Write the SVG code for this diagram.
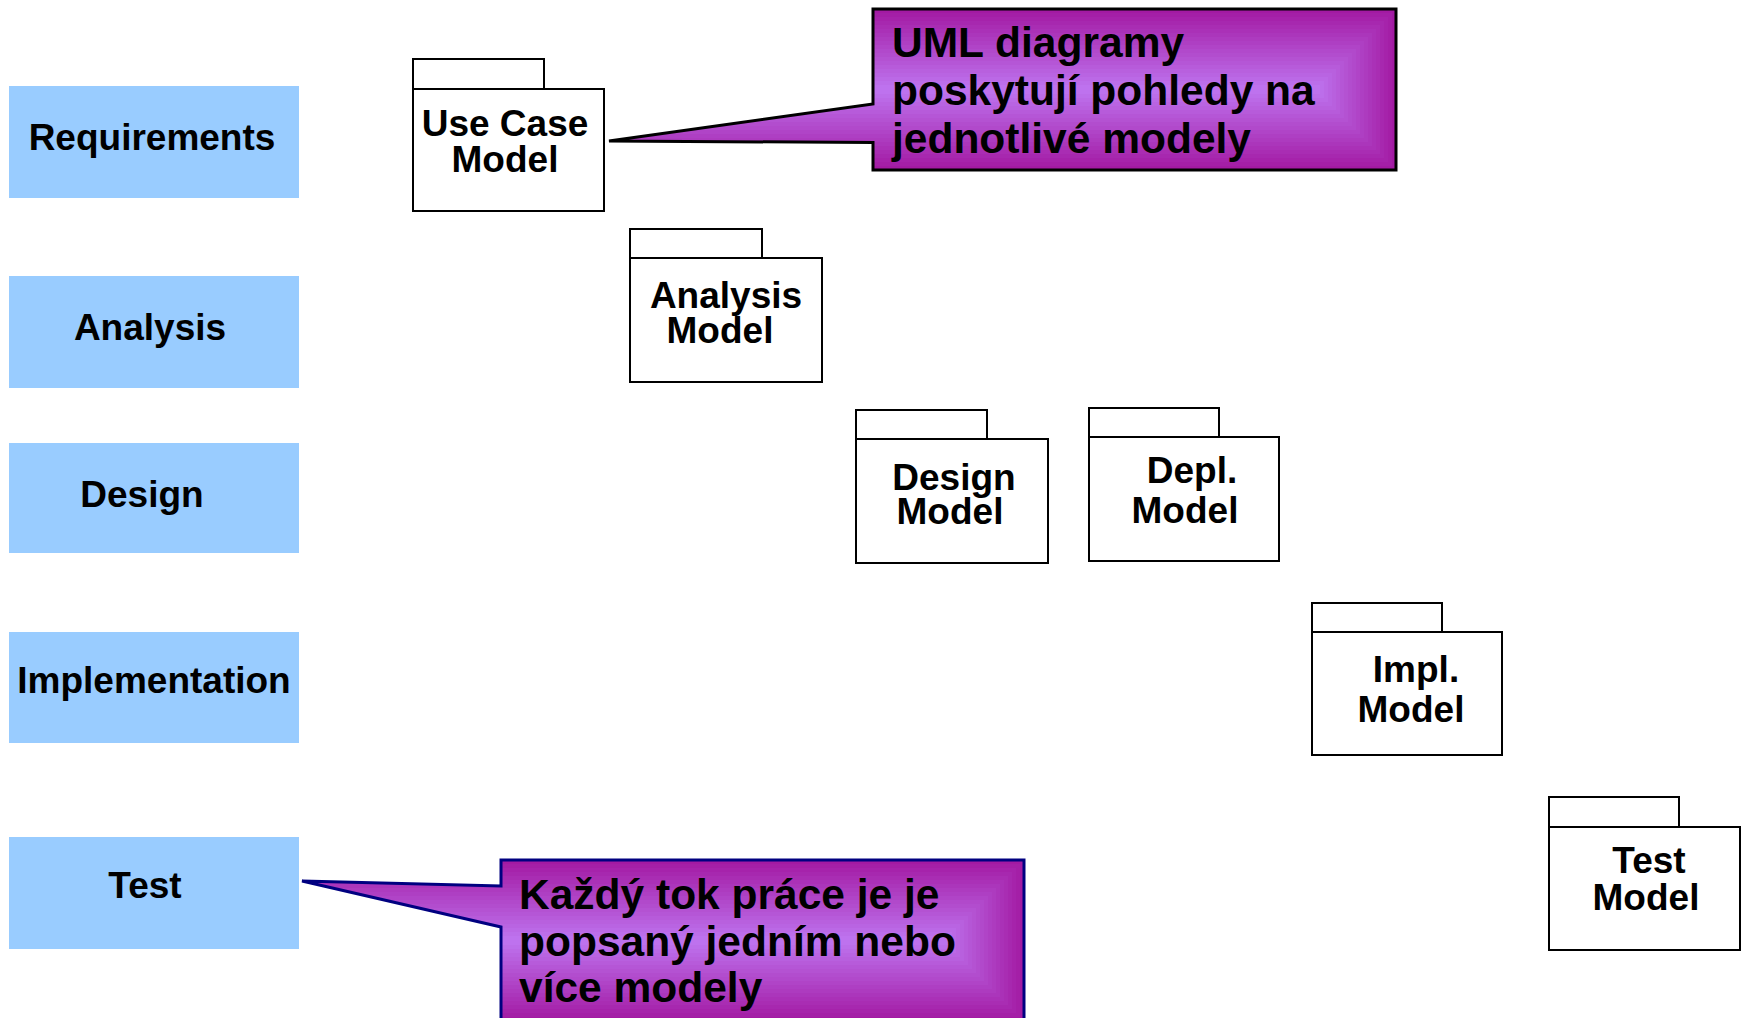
<svg xmlns="http://www.w3.org/2000/svg" xmlns:xlink="http://www.w3.org/1999/xlink" width="1744" height="1018" viewBox="0 0 1744 1018">
  <style>
    text { font-family: "Liberation Sans", Arial, sans-serif; font-weight: bold; fill: #000; }
    .flow rect { fill: #99ccff; }
    .flow text { font-size: 37px; text-anchor: middle; }
    .pkg rect { fill: #fff; stroke: #000; stroke-width: 2; }
    .pkg text { font-size: 37px; text-anchor: middle; }
    .note text { font-size: 42.5px; }
    .edge1 { fill: none; stroke: #000; stroke-width: 3; stroke-linejoin: miter; }
    .edge2 { fill: none; stroke: #000080; stroke-width: 3; stroke-linejoin: miter; }
    .r0 { fill: #a31aa3; } .r1 { fill: #a41fa7; } .r2 { fill: #a623ab; } .r3 { fill: #a728af; }
    .r4 { fill: #a92db3; } .r5 { fill: #aa31b7; } .r6 { fill: #ab36bb; } .r7 { fill: #ad3bbf; }
    .r8 { fill: #ae3fc3; } .r9 { fill: #b044c7; } .r10 { fill: #b149cb; } .r11 { fill: #b24dce; }
    .r12 { fill: #b452d2; } .r13 { fill: #b556d6; } .r14 { fill: #b75bda; } .r15 { fill: #b860de; }
    .r16 { fill: #b964e2; } .r17 { fill: #bb69e6; } .r18 { fill: #bc6eea; } .r19 { fill: #be72ee; }
  </style>
  <defs>
    <path id="shape1" d="M873,9 H1396 V170 H873 V142.5 L609,141 L873,104 Z"/>
    <path id="shape2" d="M501,860 H1024 V1021 H501 V927 L302,881 L501,886 Z"/>
    <clipPath id="clip1"><use xlink:href="#shape1"/></clipPath>
    <clipPath id="clip2"><use xlink:href="#shape2"/></clipPath>
  </defs>

  <!-- workflow column -->
  <g id="requirements" class="flow">
    <rect x="9" y="86" width="290" height="112"/>
    <text x="152" y="150">Requirements</text>
  </g>
  <g id="analysis" class="flow">
    <rect x="9" y="276" width="290" height="112"/>
    <text x="150" y="340">Analysis</text>
  </g>
  <g id="design" class="flow">
    <rect x="9" y="443" width="290" height="110"/>
    <text x="142" y="507">Design</text>
  </g>
  <g id="implementation" class="flow">
    <rect x="9" y="632" width="290" height="111"/>
    <text x="154" y="693">Implementation</text>
  </g>
  <g id="test" class="flow">
    <rect x="9" y="837" width="290" height="112"/>
    <text x="145" y="898">Test</text>
  </g>

  <!-- model packages -->
  <g id="use-case-model" class="pkg">
    <rect x="413" y="59" width="131" height="30"/>
    <rect x="413" y="89" width="191" height="122"/>
    <text x="505" y="136">Use Case</text>
    <text x="505" y="172">Model</text>
  </g>
  <g id="analysis-model" class="pkg">
    <rect x="630" y="229" width="132" height="29"/>
    <rect x="630" y="258" width="192" height="124"/>
    <text x="726" y="308">Analysis</text>
    <text x="720" y="343">Model</text>
  </g>
  <g id="design-model" class="pkg">
    <rect x="856" y="410" width="131" height="29"/>
    <rect x="856" y="439" width="192" height="124"/>
    <text x="954" y="490">Design</text>
    <text x="950" y="524">Model</text>
  </g>
  <g id="depl-model" class="pkg">
    <rect x="1089" y="408" width="130" height="29"/>
    <rect x="1089" y="437" width="190" height="124"/>
    <text x="1192" y="483">Depl.</text>
    <text x="1185" y="523">Model</text>
  </g>
  <g id="impl-model" class="pkg">
    <rect x="1312" y="603" width="130" height="29"/>
    <rect x="1312" y="632" width="190" height="123"/>
    <text x="1416" y="682">Impl.</text>
    <text x="1411" y="722">Model</text>
  </g>
  <g id="test-model" class="pkg">
    <rect x="1549" y="797" width="130" height="30"/>
    <rect x="1549" y="827" width="191" height="123"/>
    <text x="1649" y="873">Test</text>
    <text x="1646" y="910">Model</text>
  </g>

  <!-- callout pointing at the Use Case Model -->
  <g id="note-views" class="note">
    <g clip-path="url(#clip1)">
      <rect class="r0" x="609" y="9" width="787" height="161"/>
      <rect class="r1" x="609" y="13" width="783" height="153"/>
      <rect class="r2" x="609" y="17" width="779" height="145"/>
      <rect class="r3" x="609" y="21" width="775" height="137"/>
      <rect class="r4" x="609" y="25" width="771" height="129"/>
      <rect class="r5" x="609" y="29" width="767" height="121"/>
      <rect class="r6" x="609" y="33" width="763" height="113"/>
      <rect class="r7" x="609" y="37" width="759" height="105"/>
      <rect class="r8" x="609" y="41" width="755" height="97"/>
      <rect class="r9" x="609" y="45" width="751" height="89"/>
      <rect class="r10" x="609" y="49" width="747" height="81"/>
      <rect class="r11" x="609" y="53" width="743" height="73"/>
      <rect class="r12" x="609" y="57" width="739" height="65"/>
      <rect class="r13" x="609" y="61" width="735" height="57"/>
      <rect class="r14" x="609" y="65" width="731" height="49"/>
      <rect class="r15" x="609" y="69" width="727" height="41"/>
      <rect class="r16" x="609" y="73" width="723" height="33"/>
      <rect class="r17" x="609" y="77" width="719" height="25"/>
      <rect class="r18" x="609" y="81" width="715" height="17"/>
      <rect class="r19" x="609" y="85" width="711" height="9"/>
    </g>
    <use xlink:href="#shape1" class="edge1"/>
    <text x="892" y="57">UML diagramy</text>
    <text x="892" y="105">poskytují pohledy na</text>
    <text x="892" y="153">jednotlivé modely</text>
  </g>

  <!-- callout pointing at the Test workflow -->
  <g id="note-workflows" class="note">
    <g clip-path="url(#clip2)">
      <rect class="r0" x="302" y="860" width="722" height="161"/>
      <rect class="r1" x="302" y="864" width="718" height="153"/>
      <rect class="r2" x="302" y="868" width="714" height="145"/>
      <rect class="r3" x="302" y="872" width="710" height="137"/>
      <rect class="r4" x="302" y="876" width="706" height="129"/>
      <rect class="r5" x="302" y="880" width="702" height="121"/>
      <rect class="r6" x="302" y="884" width="698" height="113"/>
      <rect class="r7" x="302" y="888" width="694" height="105"/>
      <rect class="r8" x="302" y="892" width="690" height="97"/>
      <rect class="r9" x="302" y="896" width="686" height="89"/>
      <rect class="r10" x="302" y="900" width="682" height="81"/>
      <rect class="r11" x="302" y="904" width="678" height="73"/>
      <rect class="r12" x="302" y="908" width="674" height="65"/>
      <rect class="r13" x="302" y="912" width="670" height="57"/>
      <rect class="r14" x="302" y="916" width="666" height="49"/>
      <rect class="r15" x="302" y="920" width="662" height="41"/>
      <rect class="r16" x="302" y="924" width="658" height="33"/>
      <rect class="r17" x="302" y="928" width="654" height="25"/>
      <rect class="r18" x="302" y="932" width="650" height="17"/>
      <rect class="r19" x="302" y="936" width="646" height="9"/>
    </g>
    <use xlink:href="#shape2" class="edge2"/>
    <text x="519" y="909">Každý tok práce je je</text>
    <text x="519" y="956">popsaný jedním nebo</text>
    <text x="519" y="1002">více modely</text>
  </g>
</svg>
